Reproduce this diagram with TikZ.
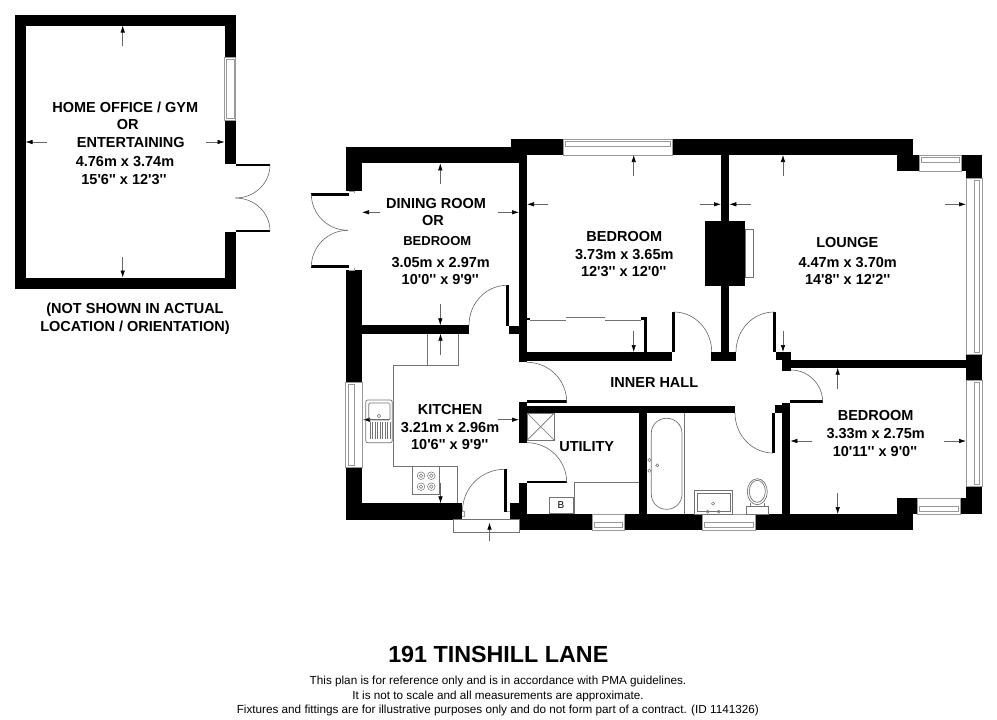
\documentclass[tikz,border=0pt]{standalone}
\usepackage{fontspec}
\setmainfont[Ligatures=TeXOff]{Liberation Sans}
\usetikzlibrary{arrows.meta}

\tikzset{
  wall/.style={fill=black},
  fitting/.style={draw=black!55,line width=0.7pt},
  glazing/.style={draw=black!40,line width=0.6pt},
  doorarc/.style={draw=black!60,line width=0.6pt},
  dimarrow/.style={draw=black!60,line width=0.6pt,-{Latex[length=7pt,width=4.5pt,black]}},
  roomname/.style={font=\bfseries\fontsize{14.5}{16}\selectfont,inner sep=0pt,text height=10.4pt,text depth=0pt},
  smallname/.style={font=\bfseries\fontsize{13}{15}\selectfont,inner sep=0pt,text height=9.4pt,text depth=0pt},
  titlename/.style={font=\bfseries\fontsize{23.3}{25}\selectfont,inner sep=0pt,text height=16.7pt,text depth=0pt},
  footnote/.style={font=\fontsize{11.72}{14}\selectfont,inner sep=0pt,text height=8.4pt,text depth=0pt}
}

\begin{document}
\begin{tikzpicture}[x=1pt,y=-1pt]
\useasboundingbox (0,0) rectangle (997,720);

% outbuilding walls
\fill[wall] (14.5,14.5) rectangle (235.5,25.5);
\fill[wall] (14.5,277.5) rectangle (235.5,288.5);
\fill[wall] (14.5,14.5) rectangle (25.5,288.5);
\fill[wall] (224.5,14.5) rectangle (235.5,57);
\fill[wall] (224.5,120) rectangle (235.5,163.5);
\fill[wall] (224.5,232) rectangle (235.5,288.5);
\fill[wall] (235.5,163.5) rectangle (270,165.8);
\fill[wall] (235.5,229.7) rectangle (270,232);

% main outer walls
\fill[wall] (345.7,147.3) rectangle (527,163.3);
\fill[wall] (345.7,147.3) rectangle (362.3,191);
\fill[wall] (345.7,270.3) rectangle (362.3,382.3);
\fill[wall] (345.7,467.3) rectangle (362.3,519.7);
\fill[wall] (345.7,503.3) rectangle (462.3,519.7);
\fill[wall] (511,139.3) rectangle (563.3,155);
\fill[wall] (672.3,139.3) rectangle (912.7,155);
\fill[wall] (896.7,155) rectangle (919,171.3);
\fill[wall] (961.3,155) rectangle (982,171.3);
\fill[wall] (966,171.3) rectangle (982,178.3);
\fill[wall] (966,354) rectangle (982,380);
\fill[wall] (966,486.7) rectangle (982,514);
\fill[wall] (960,498.3) rectangle (982,514);
\fill[wall] (896.7,498.3) rectangle (917.3,514);
\fill[wall] (519,514) rectangle (592.3,530.3);
\fill[wall] (624,514) rectangle (702,530.3);
\fill[wall] (755,514) rectangle (912.7,530.3);
\fill[wall] (510,503.3) rectangle (527,519);

% inner walls
\fill[wall] (362,325.3) rectangle (469,333.7);
\fill[wall] (508.7,325.7) rectangle (521,333.7);
\fill[wall] (519,155) rectangle (527,361.7);
\fill[wall] (519,352) rectangle (671.7,360.7);
\fill[wall] (721,155) rectangle (729.3,352);
\fill[wall] (711.3,352) rectangle (736,361);
\fill[wall] (705,221.3) rectangle (745.3,285.7);
\fill[wall] (776,352) rectangle (790.7,360);
\fill[wall] (782.3,360) rectangle (790.7,370.7);
\fill[wall] (790.7,359.7) rectangle (966,367.7);
\fill[wall] (519,402) rectangle (527,442.7);
\fill[wall] (519,482.7) rectangle (527,514);
\fill[wall] (519,405.5) rectangle (735,413.3);
\fill[wall] (638.7,413) rectangle (647,514);
\fill[wall] (782,402.7) rectangle (790.3,514);
\fill[wall] (775,405) rectangle (782,413.3);

% door leaves and the wardrobe end
\fill[wall] (311.3,193.3) rectangle (348.7,196);
\fill[wall] (311.3,265.3) rectangle (348.7,268);
\fill[wall] (506,285.3) rectangle (508.7,325.5);
\fill[wall] (671.7,312) rectangle (674.5,352);
\fill[wall] (773.3,312) rectangle (776,352);
\fill[wall] (527,400) rectangle (566.7,402.7);
\fill[wall] (527,480.7) rectangle (566.7,483.3);
\fill[wall] (504.3,469.3) rectangle (507,511.7);
\fill[wall] (772.3,413) rectangle (775,453.3);
\fill[wall] (790.3,400) rectangle (822.7,402.7);
\fill[wall] (644,317.3) rectangle (646.7,352);
\fill[wall] (641.3,317.3) rectangle (646.7,320);
\fill[wall] (527,318) rectangle (530,320);

% door swings
\draw[doorarc] (270,165) arc[start angle=0,end angle=90,x radius=34.5,y radius=33];
\draw[doorarc] (270,231) arc[start angle=0,end angle=-90,x radius=34.5,y radius=33];
\draw[doorarc] (311.3,194) arc[start angle=180,end angle=90,x radius=36.7,y radius=36.3];
\draw[doorarc] (311.3,267) arc[start angle=180,end angle=270,x radius=36.7,y radius=36.7];
\draw[doorarc] (469,325.3) arc[start angle=180,end angle=270,x radius=38,y radius=40];
\draw[doorarc] (674,312) arc[start angle=-90,end angle=0,x radius=37.7,y radius=40];
\draw[doorarc] (736,352) arc[start angle=180,end angle=270,x radius=38,y radius=40];
\draw[doorarc] (527,362.3) arc[start angle=-90,end angle=0,x radius=39.7,y radius=39.7];
\draw[doorarc] (527,442.7) arc[start angle=-90,end angle=0,x radius=39.7,y radius=39.7];
\draw[doorarc] (462.5,511) arc[start angle=180,end angle=270,x radius=42,y radius=41.7];
\draw[doorarc] (735,413) arc[start angle=180,end angle=90,x radius=38,y radius=40];
\draw[doorarc] (790.7,370) arc[start angle=-90,end angle=0,x radius=32,y radius=32];

% door frame stubs
\draw[glazing] (348.7,191) -- (354,191) -- (354,193.3);
\draw[glazing] (348.7,270.3) -- (354,270.3) -- (354,268);
\draw[glazing] (462.3,511) -- (464,511) -- (464,516) -- (462.3,516);
\draw[glazing] (507,511.7) -- (510,511.7);

% windows: outer frame then the glazing strip
\foreach \xa/\ya/\xb/\yb/\sa/\sb in {224.5/57/235.5/120/226.7/234,345.7/382.3/362.3/467.3/348.3/354,966/178.3/982/354/974/979.3,966/380/982/486.7/974/979.3}{
  \draw[glazing] (\xa,\ya) rectangle (\xb,\yb);
  \draw[glazing] (\sa,\ya+2) rectangle (\sb,\yb-2);
}
\foreach \xa/\ya/\xb/\yb/\sa/\sb in {563.3/139.3/672.3/155/141/146.7,919/155/961.3/171.3/157/162.5,917.3/498.3/960/514/506/511.5,592.3/514/624/530.3/522/527.5,702/514/755/530.3/522/527.5}{
  \draw[glazing] (\xa,\ya) rectangle (\xb,\yb);
  \draw[glazing] (\xa+2,\sa) rectangle (\xb-2,\sb);
}

% dimension arrows, head on the wall
\draw[dimarrow] (122.7,46) -- (122.7,25.5);
\draw[dimarrow] (47,142) -- (25.5,142);
\draw[dimarrow] (206,142) -- (224.5,142);
\draw[dimarrow] (122.7,257) -- (122.7,277.5);
\draw[dimarrow] (440.3,184.3) -- (440.3,163.3);
\draw[dimarrow] (380,212.3) -- (362,212.3);
\draw[dimarrow] (497.7,212.3) -- (519,212.3);
\draw[dimarrow] (440.3,304.3) -- (440.3,325.3);
\draw[dimarrow] (633.7,176) -- (633.7,155);
\draw[dimarrow] (548.3,204.3) -- (527,204.3);
\draw[dimarrow] (700,204.3) -- (721,204.3);
\draw[dimarrow] (633.7,330.7) -- (633.7,352);
\draw[dimarrow] (783,176) -- (783,155);
\draw[dimarrow] (750.7,204.3) -- (729.3,204.3);
\draw[dimarrow] (945,204.3) -- (966,204.3);
\draw[dimarrow] (783,331) -- (783,352);
\draw[dimarrow] (440.5,355) -- (440.5,333.7);
\draw[dimarrow] (390,419.7) -- (363,419.7);
\draw[dimarrow] (497.7,419.7) -- (519,419.7);
\draw[dimarrow] (440.5,482.7) -- (440.5,503.3);
\draw[dimarrow] (489.5,540.7) -- (489.5,522.7);
\draw[dimarrow] (837.7,389.3) -- (837.7,367.7);
\draw[dimarrow] (811.7,441) -- (790.3,441);
\draw[dimarrow] (944.3,441) -- (966,441);
\draw[dimarrow] (837.7,493.3) -- (837.7,514);

% kitchen fittings
\draw[fitting] (427.3,333.7) -- (427.3,365.3);
\draw[fitting] (458.3,333.7) -- (458.3,365.3) -- (393.7,365.3) -- (393.7,466) -- (457.7,466) -- (457.7,503.3);
\draw[fitting] (412.3,466) rectangle (439.7,494.3);
\foreach \hx/\hy in {421/475.7,431.3/475.7,421/486.7,431.3/486.7}{
  \draw[fitting,line width=0.5pt] (\hx,\hy) circle (3.8);
  \draw[fitting,line width=0.5pt] (\hx,\hy) circle (1.8);
}
\draw[fitting,rounded corners=2pt] (365.7,400) rectangle (392.3,442.7);
\draw[fitting,rounded corners=1.5pt] (368.7,403) rectangle (390,420);
\draw[fitting,line width=0.5pt] (379,416) circle (1.7);
\foreach \rx in {370,372.5,...,390}{
  \draw[fitting,line width=0.5pt] (\rx,422) -- (\rx,439);
}
\draw[fitting] (453.7,519.7) rectangle (519,532.3);
\draw[fitting] (527.3,413.3) rectangle (554,440);
\draw[fitting] (527.3,413.3) -- (554,440);
\draw[fitting] (527.3,440) -- (554,413.3);

% utility fittings
\draw[fitting] (549,497.3) rectangle (573,513.5);
\draw[fitting] (574.7,514) -- (574.7,482.3) -- (638.7,482.3);

% bathroom fittings
\draw[fitting] (684,413.3) -- (684,514);
\draw[fitting,rounded corners=15pt] (651.3,418.3) rectangle (682,509.3);
\foreach \tx/\ty in {649.3/460,649.3/470.7,657.3/465.3,713/503.7,707.7/511.7,718.7/511.7}{
  \draw[fitting,line width=0.5pt] (\tx,\ty) circle (1.6);
}
\draw[fitting] (694.7,490.7) rectangle (732.3,514);
\draw[fitting] (697.3,493.3) rectangle (730,511);
\draw[fitting] (757.3,491.7) ellipse (10 and 13);
\draw[fitting] (757.3,491.3) ellipse (8 and 11);
\draw[fitting] (750,503) -- (750,506.3);
\draw[fitting] (764.6,503) -- (764.6,506.3);
\draw[fitting] (746.3,506.3) rectangle (768.7,514);

% hearth
\draw[fitting] (745.3,229.3) rectangle (753.7,277.3);

% wardrobe doors
\draw[fitting] (530,320) -- (565.7,320);
\draw[fitting] (566,317.3) -- (605,317.3);
\draw[fitting] (605.3,320) -- (641.3,320);

% labels
\node[roomname] (officea) at (125.3,107) {HOME OFFICE / GYM};
\node[roomname] (officeb) at (127.7,124.5) {OR};
\node[roomname] (officec) at (130.7,142) {ENTERTAINING};
\node[roomname] (officed) at (125,161) {4.76m x 3.74m};
\node[roomname] (officee) at (124,179) {15'6'' x 12'3''};
\node[roomname] (notea) at (135,308) {(NOT SHOWN IN ACTUAL};
\node[roomname] (noteb) at (135,326.7) {LOCATION / ORIENTATION)};
\node[roomname] (dininga) at (436,203) {DINING ROOM};
\node[roomname] (diningb) at (433,220.7) {OR};
\node[smallname] (diningc) at (437.3,240.7) {BEDROOM};
\node[roomname] (diningd) at (440.7,262) {3.05m x 2.97m};
\node[roomname] (dininge) at (440.3,279.7) {10'0'' x 9'9''};
\node[roomname] (beda) at (624.3,236) {BEDROOM};
\node[roomname] (bedb) at (624.3,254) {3.73m x 3.65m};
\node[roomname] (bedc) at (623.7,271.3) {12'3'' x 12'0''};
\node[roomname] (loungea) at (847.3,242.7) {LOUNGE};
\node[roomname] (loungeb) at (847.7,262) {4.47m x 3.70m};
\node[roomname] (loungec) at (847.7,279.7) {14'8'' x 12'2''};
\node[roomname] (kitchena) at (450,409) {KITCHEN};
\node[roomname] (kitchenb) at (450,427) {3.21m x 2.96m};
\node[roomname] (kitchenc) at (449.7,444.7) {10'6'' x 9'9''};
\node[roomname] (hall) at (654.3,382.3) {INNER HALL};
\node[roomname] (utility) at (586.7,446.3) {UTILITY};
\node[font=\fontsize{10}{11}\selectfont,inner sep=0pt] (boiler) at (561,505.3) {B};
\node[roomname] (bedtwoa) at (875.7,415.3) {BEDROOM};
\node[roomname] (bedtwob) at (875.7,433.7) {3.33m x 2.75m};
\node[roomname] (bedtwoc) at (875,451) {10'11'' x 9'0''};
\node[titlename] (plantitle) at (498.3,654) {191 TINSHILL LANE};
\node[footnote] (foota) at (498,680.7) {This plan is for reference only and is in accordance with PMA guidelines.};
\node[footnote] (footb) at (498,695) {It is not to scale and all measurements are approximate.};
\node[footnote] (footc) at (497.8,709.2) {Fixtures and fittings are for illustrative purposes only and do not form part of a contract. (ID 1141326)};
\end{tikzpicture}
\end{document}
